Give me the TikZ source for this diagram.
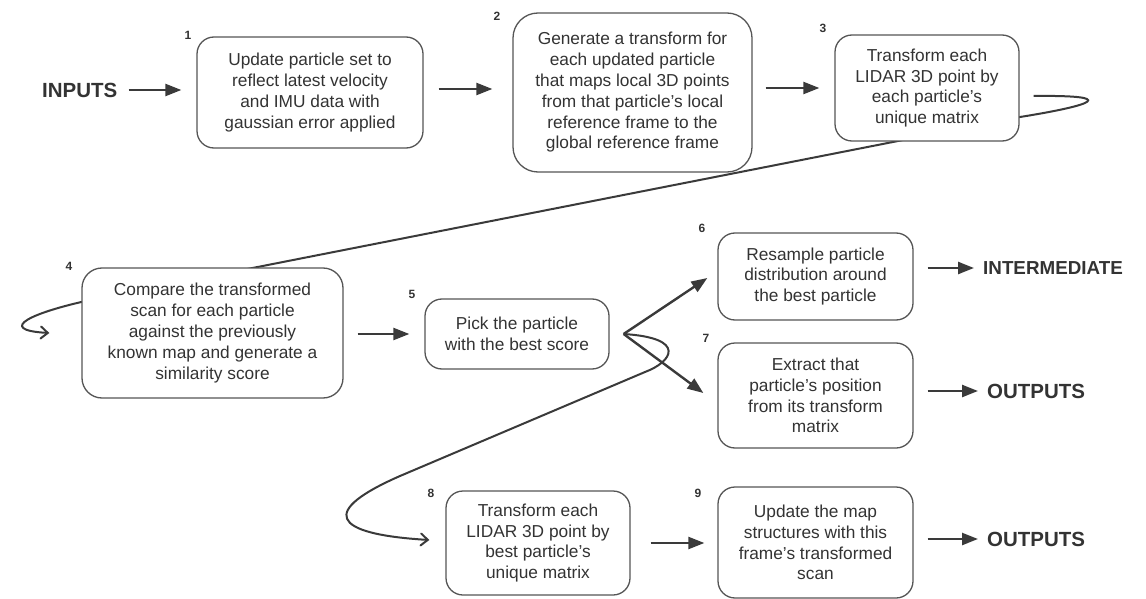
\documentclass[tikz,border=0pt]{standalone}
\usepackage{fontspec}
\setmainfont{Liberation Sans}
\usetikzlibrary{arrows.meta,calc,backgrounds}
\definecolor{ink}{HTML}{333333}
\definecolor{edge}{HTML}{555555}
\definecolor{wire}{HTML}{3A3A3A}
\begin{document}
\begin{tikzpicture}[x=1pt,y=-1pt,
  box/.style={draw=edge, line width=1.3pt, rounded corners=17pt, fill=white, align=center, text=ink,
    font=\fontsize{17.3}{20.8}\selectfont, inner sep=0pt},
  num/.style={text=ink, font=\bfseries\fontsize{12}{12}\selectfont, inner sep=0pt},
  big/.style={text=ink, font=\bfseries\fontsize{20.5}{24}\selectfont, inner sep=0pt, anchor=west},
  flow/.style={draw=wire, line width=2.4pt, -{Triangle[length=16pt,width=12pt]}},
  swoop/.style={draw=wire, line width=2pt, -{Straight Barb[length=7pt,width=12pt,line cap=round]}}
]
\useasboundingbox (0,0) rectangle (1146,599);

% boxes
\node[box, minimum width=226pt, minimum height=111pt] (b1) at (310,92.5)
  {Update particle set to\\reflect latest velocity\\and IMU data with\\gaussian error applied};
\node[box, rounded corners=25pt, minimum width=239pt, minimum height=159pt] (b2) at (632.5,92.5)
  {Generate a transform for\\each updated particle\\that maps local 3D points\\from that particle’s local\\reference frame to the\\global reference frame};
\node[box, minimum width=184pt, minimum height=106pt] (b3) at (927,88)
  {Transform each\\LIDAR 3D point by\\each particle’s\\unique matrix};
\node[box, rounded corners=20pt, minimum width=261pt, minimum height=130pt] (b4) at (212.5,333)
  {Compare the transformed\\scan for each particle\\against the previously\\known map and generate a\\similarity score};
\node[box, minimum width=184pt, minimum height=70pt] (b5) at (517,334)
  {Pick the particle\\with the best score};
\node[box, minimum width=195pt, minimum height=87pt] (b6) at (815.5,276.5)
  {Resample particle\\distribution around\\the best particle};
\node[box, minimum width=195pt, minimum height=105pt] (b7) at (815.5,395.5)
  {Extract that\\particle’s position\\from its transform\\matrix};
\node[box, minimum width=184pt, minimum height=104pt] (b8) at (538,543)
  {Transform each\\LIDAR 3D point by\\best particle’s\\unique matrix};
\node[box, minimum width=195pt, minimum height=111pt] (b9) at (815.5,542.5)
  {Update the map\\structures with this\\frame’s transformed\\scan};

% numbers
\node[num] (l1) at (188,35) {1};
\node[num] (l2) at (497,16) {2};
\node[num] (l3) at (823,28) {3};
\node[num] (l4) at (69,266) {4};
\node[num] (l5) at (412,294) {5};
\node[num] (l6) at (702,228) {6};
\node[num] (l7) at (706,338) {7};
\node[num] (l8) at (431,493) {8};
\node[num] (l9) at (698,493) {9};

% terminal labels
\node[big] (inputs) at (42,90) {INPUTS};
\node[big, font=\bfseries\fontsize{18.8}{22}\selectfont] (inter) at (983,268) {INTERMEDIATE};
\node[big] (out1) at (987,391) {OUTPUTS};
\node[big] (out2) at (987,539) {OUTPUTS};

% straight arrows
\draw[flow, shorten <=11pt, shorten >=15pt] (inputs.east) -- (inputs.east -| b1.west);
\draw[flow, shorten <=15pt, shorten >=20pt] ($(b1.east)+(0,-3.5)$) -- ($(b1.east -| b2.west)+(0,-3.5)$);
\draw[flow, shorten <=13pt, shorten >=15pt] (b3.west -| b2.east) -- (b3.west);
\draw[flow, shorten <=14pt, shorten >=15pt] (b5.west -| b4.east) -- (b5.west);
\draw[flow, shorten <=20pt, shorten >=13pt] (b8.east) -- (b8.east -| b9.west);
\draw[flow, shorten <=14pt, shorten >=9pt] (inter.west -| b6.east) -- (inter.west);
\draw[flow, shorten <=14pt, shorten >=9pt] (out1.west -| b7.east) -- (out1.west);
\draw[flow, shorten <=14pt, shorten >=9pt] (out2.west -| b9.east) -- (out2.west);

% fork from box 5
\coordinate (fork) at ($(b5.east)+(14,0)$);
\draw[flow] (fork) -- ($(b6.west)+(-10,1.5)$);
\draw[flow] (fork) -- ($(b7.west)+(-14,-2.5)$);

% curved connectors behind the boxes
\begin{scope}[on background layer]
\draw[swoop] ($(b3.east)+(14,8)$) .. controls (1120,95) and (1095,105) .. (1020,117)
  -- (100,298) .. controls (30,312) and (-5,330) .. ($(b4.west)+(-32,0)$);
\draw[swoop] (fork) .. controls (688,338) and (672,362) .. (645,372)
  -- (400,476) .. controls (320,511) and (330,534) .. ($(b8.west)+(-16,-3)$);
\end{scope}
\end{tikzpicture}
\end{document}
